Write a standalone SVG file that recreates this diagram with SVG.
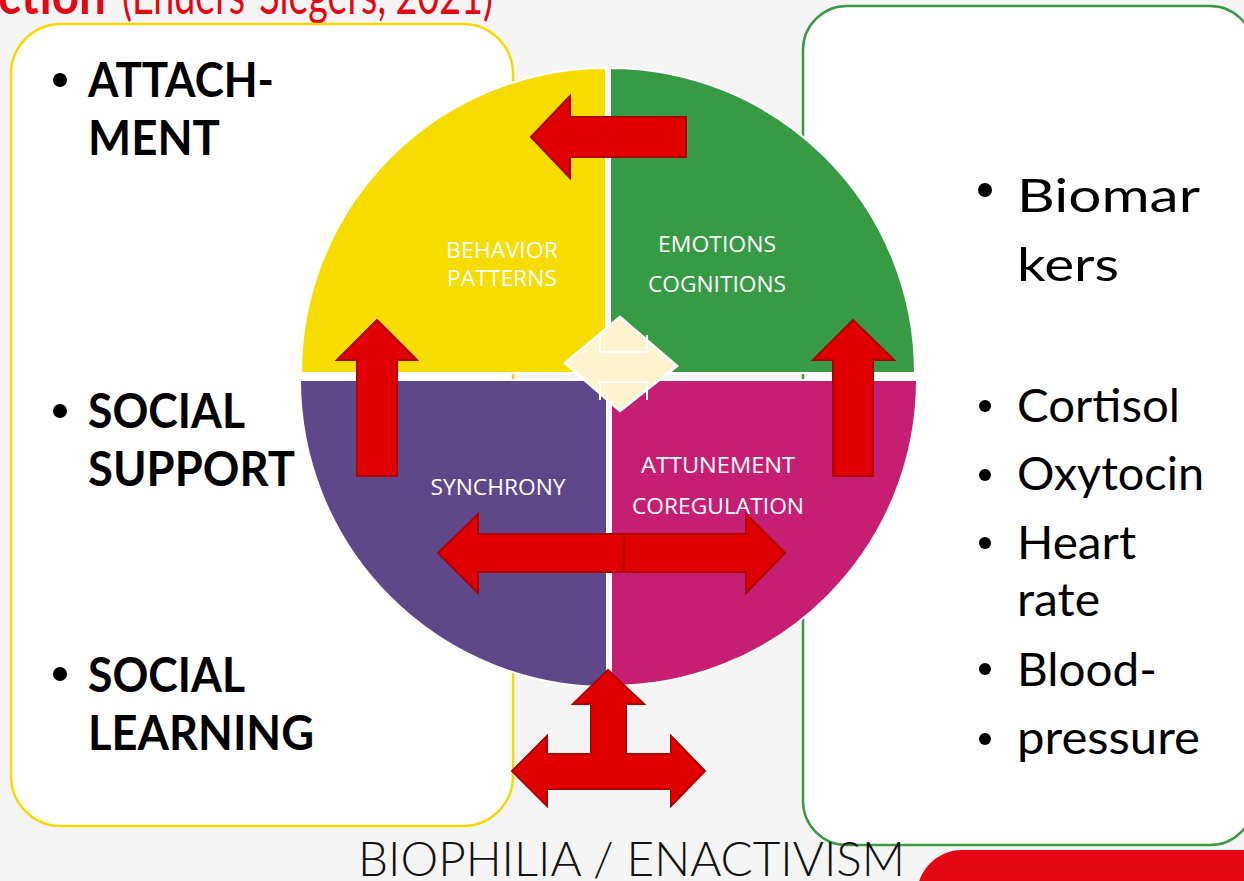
<svg xmlns="http://www.w3.org/2000/svg" width="1244" height="881" viewBox="0 0 1244 881">
<style>
.arr{fill:#e00000;stroke:#b00000;stroke-width:2;stroke-linejoin:miter}
.lab{font-family:"Open Sans","Liberation Sans",sans-serif;font-size:21px;fill:#ffffff;text-anchor:middle}
.lt{font-family:Lato,"Liberation Sans",sans-serif;font-size:48px;font-weight:bold;fill:#000}
.rt{font-family:Lato,"Liberation Sans",sans-serif;font-size:46px;fill:#000}
.bul{fill:#000}
.q{stroke:#ffffff;stroke-width:2}
</style>
<rect x="0" y="0" width="1244" height="881" fill="#f5f5f5"/>
<g id="title">
<text x="-2" y="14" font-family="Lato,'Liberation Sans',sans-serif" font-size="54" fill="#e30613"><tspan font-weight="bold" textLength="108" lengthAdjust="spacingAndGlyphs">ction</tspan><tspan x="122" textLength="371" lengthAdjust="spacingAndGlyphs">(Enders-Siegers, 2021)</tspan></text>
</g>
<g id="left-box">
<rect x="11" y="24" width="502" height="802" rx="50" fill="#ffffff" stroke="#f5d800" stroke-width="2.5"/>
<circle class="bul" cx="60" cy="80" r="7"/>
<text class="lt" x="88" y="97" textLength="186" lengthAdjust="spacingAndGlyphs">ATTACH-</text>
<text class="lt" x="88" y="155" textLength="132" lengthAdjust="spacingAndGlyphs">MENT</text>
<circle class="bul" cx="60" cy="411" r="7"/>
<text class="lt" x="88" y="428" textLength="157" lengthAdjust="spacingAndGlyphs">SOCIAL</text>
<text class="lt" x="88" y="486" textLength="207" lengthAdjust="spacingAndGlyphs">SUPPORT</text>
<circle class="bul" cx="60" cy="674" r="7"/>
<text class="lt" x="88" y="692" textLength="157" lengthAdjust="spacingAndGlyphs">SOCIAL</text>
<text class="lt" x="88" y="750" textLength="226" lengthAdjust="spacingAndGlyphs">LEARNING</text>
</g>
<g id="right-box">
<rect x="803" y="6" width="451" height="839" rx="44" fill="#ffffff" stroke="#3a9a44" stroke-width="2.5"/>
<circle class="bul" cx="985" cy="190" r="7"/>
<text class="rt" x="1017" y="212" font-size="58" textLength="183" lengthAdjust="spacingAndGlyphs">Biomar</text>
<text class="rt" x="1017" y="281" font-size="58" textLength="102" lengthAdjust="spacingAndGlyphs">kers</text>
<circle class="bul" cx="985" cy="406" r="6"/>
<text class="rt" x="1017" y="422" textLength="163" lengthAdjust="spacingAndGlyphs">Cortisol</text>
<circle class="bul" cx="985" cy="475" r="6"/>
<text class="rt" x="1017" y="490" textLength="187" lengthAdjust="spacingAndGlyphs">Oxytocin</text>
<circle class="bul" cx="985" cy="543" r="6"/>
<text class="rt" x="1017" y="559" textLength="119" lengthAdjust="spacingAndGlyphs">Heart</text>
<text class="rt" x="1017" y="616" textLength="83" lengthAdjust="spacingAndGlyphs">rate</text>
<circle class="bul" cx="985" cy="669" r="6"/>
<text class="rt" x="1017" y="686" textLength="140" lengthAdjust="spacingAndGlyphs">Blood-</text>
<circle class="bul" cx="985" cy="739" r="6"/>
<text class="rt" x="1017" y="754" textLength="183" lengthAdjust="spacingAndGlyphs">pressure</text>
</g>
<g id="red-box">
<rect x="917" y="850" width="420" height="120" rx="45" fill="#e30613"/>
</g>
<g id="behavior-patterns">
<path class="q" d="M606,373 L301,373 A305,305 0 0 1 606,68 Z" fill="#f7dc00"/>
<text class="lab" x="502" y="258" textLength="112" lengthAdjust="spacingAndGlyphs">BEHAVIOR</text>
<text class="lab" x="502" y="286" textLength="110" lengthAdjust="spacingAndGlyphs">PATTERNS</text>
</g>
<g id="emotions-cognitions">
<path class="q" d="M610,373 L610,68 A305,305 0 0 1 915,373 Z" fill="#379b45"/>
<text class="lab" x="717" y="252" textLength="118" lengthAdjust="spacingAndGlyphs">EMOTIONS</text>
<text class="lab" x="717" y="292" textLength="138" lengthAdjust="spacingAndGlyphs">COGNITIONS</text>
</g>
<g id="synchrony">
<path class="q" d="M607,380 L607,687 A307,307 0 0 1 300,380 Z" fill="#5f4889"/>
<text class="lab" x="498" y="495" textLength="135" lengthAdjust="spacingAndGlyphs">SYNCHRONY</text>
</g>
<g id="attunement-coregulation">
<path class="q" d="M611,380 L917,380 A306,306 0 0 1 611,686 Z" fill="#c51e73"/>
<text class="lab" x="718" y="473" textLength="154" lengthAdjust="spacingAndGlyphs">ATTUNEMENT</text>
<text class="lab" x="718" y="514" textLength="172" lengthAdjust="spacingAndGlyphs">COREGULATION</text>
</g>
<g id="center-diamond">
<polygon points="620,317 677,366 620,411 565,363" fill="#fcf3cf" stroke="#ffffff" stroke-width="2.5"/>
<path d="M600,335 V352 H647 V335 M600,400 V382 H647 V400" fill="none" stroke="#ffffff" stroke-width="2"/>
</g>
<g id="connectors">
<polygon class="arr" points="531,137 570,96 570,117 686,117 686,157 570,157 570,178"/>
<polygon class="arr" points="377,320 417,360 397,360 397,476 357,476 357,360 337,360"/>
<polygon class="arr" points="853,320 894,360 873,360 873,476 833,476 833,360 813,360"/>
<polygon class="arr" points="438,553 478,514 478,534 624,534 624,572 478,572 478,593"/>
<polygon class="arr" points="785,553 746,514 746,534 624,534 624,572 746,572 746,593"/>
<polygon class="arr" points="608,670 644,704 626,704 626,754 671,754 671,736 705,771 671,806 671,789 547,789 547,806 512,771 547,736 547,754 591,754 591,704 573,704"/>
</g>
<g id="footer">
<text x="358" y="876" font-family="Lato,'Liberation Sans',sans-serif" font-weight="300" font-size="47" fill="#111" textLength="547" lengthAdjust="spacingAndGlyphs">BIOPHILIA / ENACTIVISM</text>
</g>
</svg>
